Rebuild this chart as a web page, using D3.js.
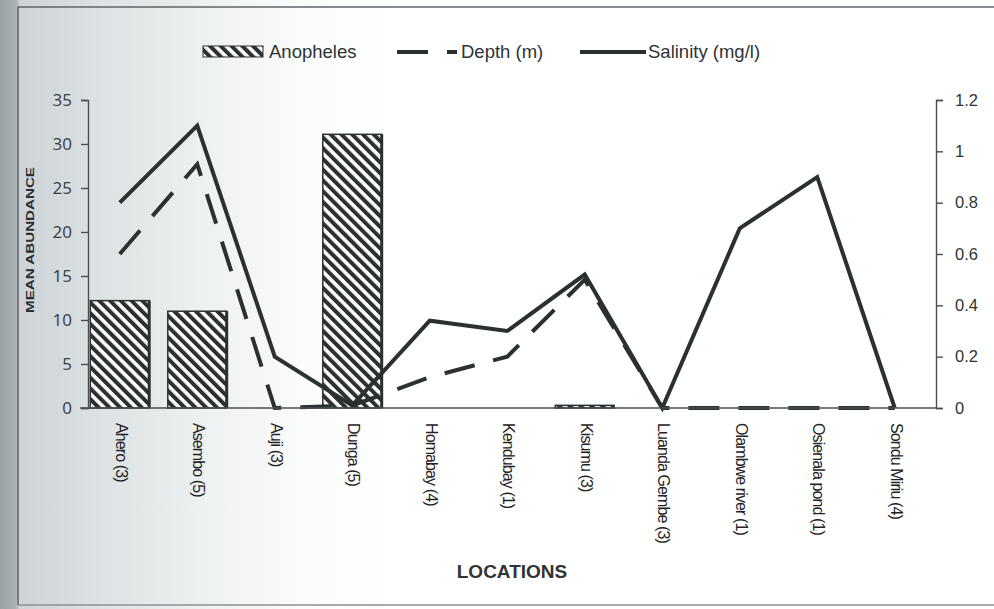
<!DOCTYPE html>
<html>
<head>
<meta charset="utf-8">
<script src="https://cdn.jsdelivr.net/npm/d3@7"></script>
<style>
  body { margin: 0; background: #fff; }
  svg { display: block; }
</style>
</head>
<body>
<script>
var width = 994, height = 609;

// data
var locations = ["Ahero (3)", "Asembo (5)", "Auji (3)", "Dunga (5)", "Homabay (4)", "Kendubay (1)",
                 "Kisumu (3)", "Luanda Gembe (3)", "Olambwe river (1)", "Osienala pond (1)", "Sondu Miriu (4)"];
var anopheles = [12.2, 11, 0, 31.1, 0, 0, 0.3, 0, 0, 0, 0];
var depth = [0.6, 0.95, 0, 0.01, 0.12, 0.2, 0.5, 0, 0, 0, 0];
var salinity = [0.8, 1.1, 0.2, 0.01, 0.34, 0.3, 0.52, 0, 0.7, 0.9, 0];
var leftTicks = [0, 5, 10, 15, 20, 25, 30, 35];
var rightTicks = [0, 0.2, 0.4, 0.6, 0.8, 1, 1.2];

var ink = "#2b3031";

var svg = d3.select("body").append("svg")
    .attr("width", width)
    .attr("height", height);

var defs = svg.append("defs");

// scanned page shading, darker at the left edge
var bg = defs.append("linearGradient").attr("id", "paper")
    .attr("gradientUnits", "userSpaceOnUse")
    .attr("x1", 0).attr("x2", width).attr("y1", 0).attr("y2", 0);
[[0, "#9aa2a7"], [0.016, "#a9b1b5"], [0.02, "#cdd3d6"], [0.1, "#dce1e3"], [0.2, "#edf0f1"], [0.3, "#fafbfb"], [0.4, "#ffffff"], [1, "#ffffff"]]
  .forEach(function(s){ bg.append("stop").attr("offset", s[0]).attr("stop-color", s[1]); });

// diagonal hatch for the bars
var hatch = defs.append("pattern").attr("id", "hatch")
    .attr("patternUnits", "userSpaceOnUse")
    .attr("width", 7.6).attr("height", 7.6)
    .attr("patternTransform", "rotate(-45)");
hatch.append("rect").attr("width", 7.6).attr("height", 7.6).attr("fill", "#fff");
hatch.append("rect").attr("width", 4).attr("height", 7.6).attr("fill", ink);

svg.append("rect").attr("width", width).attr("height", height).attr("fill", "url(#paper)");

// page frame
svg.append("path")
    .attr("d", "M18,605 L18,7 L994,7")
    .attr("fill", "none").attr("stroke", "#5f6568").attr("stroke-width", 1.5);
svg.append("line").attr("x1", 18).attr("x2", 994).attr("y1", 605).attr("y2", 605)
    .attr("stroke", "#8a9094").attr("stroke-width", 1.5);

// scales
var x = d3.scaleBand().domain(locations).range([81, 933.5]).paddingInner(0.24).paddingOuter(0.12);
var yLeft = d3.scaleLinear().domain([0, 35]).range([408, 100]);
var yRight = d3.scaleLinear().domain([0, 1.2]).range([408, 100]);
var cx = function(i){ return x(locations[i]) + x.bandwidth() / 2; };

// bars
var bars = svg.append("g").selectAll("g")
  .data(anopheles)
  .enter().append("g");
bars.append("rect")
    .attr("x", function(d, i){ return x(locations[i]); })
    .attr("width", x.bandwidth())
    .attr("y", function(d){ return yLeft(d); })
    .attr("height", function(d){ return yLeft(0) - yLeft(d); })
    .attr("fill", "url(#hatch)")
    .attr("stroke", function(d){ return d > 0 ? ink : "none"; })
    .attr("stroke-width", 1.5);
// heavier right edge, like the printed bars
bars.filter(function(d){ return d > 1; }).append("line")
    .attr("x1", function(d){ return x(locations[anopheles.indexOf(d)]) + x.bandwidth(); })
    .attr("x2", function(d){ return x(locations[anopheles.indexOf(d)]) + x.bandwidth(); })
    .attr("y1", function(d){ return yLeft(d); })
    .attr("y2", yLeft(0))
    .attr("stroke", ink).attr("stroke-width", 3);

// lines
var line = function(scale){
  return d3.line().x(function(d, i){ return cx(i); }).y(function(d){ return scale(d); });
};
svg.append("path").datum(depth)
    .attr("d", line(yRight))
    .attr("fill", "none").attr("stroke", ink).attr("stroke-width", 4)
    .attr("stroke-dasharray", "31,19");
svg.append("path").datum(salinity)
    .attr("d", line(yRight))
    .attr("fill", "none").attr("stroke", ink).attr("stroke-width", 4)
    .attr("stroke-linejoin", "miter");

// left axis
var left = svg.append("g").attr("transform", "translate(88,0)")
    .call(d3.axisLeft(yLeft).tickValues(leftTicks).tickSize(7).tickPadding(9));
left.select(".domain").attr("stroke", "#4a4f52").attr("stroke-width", 1.4);
left.selectAll(".tick line").attr("stroke", "#4a4f52").attr("stroke-width", 1.4);
left.selectAll("text").attr("font-family", "'Open Sans', sans-serif").attr("font-size", 17).attr("fill", "#363b3e");

// right axis
var right = svg.append("g").attr("transform", "translate(936,0)")
    .call(d3.axisRight(yRight).tickValues(rightTicks).tickSize(7).tickPadding(12).tickFormat(d3.format("~g")));
right.select(".domain").attr("stroke", "#4a4f52").attr("stroke-width", 1.4);
right.selectAll(".tick line").attr("stroke", "#4a4f52").attr("stroke-width", 1.4);
right.selectAll("text").attr("font-family", "'Liberation Sans', Arial, sans-serif").attr("font-size", 16.5).attr("fill", "#2f3436");

// baseline
svg.append("line").attr("x1", 80).attr("x2", 936).attr("y1", yLeft(0)).attr("y2", yLeft(0))
    .attr("stroke", "#4a4f52").attr("stroke-width", 1.4);

// category labels, rotated to read downward
svg.append("g").selectAll("text")
  .data(locations)
  .enter().append("text")
    .attr("transform", function(d, i){ return "translate(" + cx(i) + ",423) rotate(90)"; })
    .attr("dominant-baseline", "middle")
    .attr("font-family", "'Liberation Sans', Arial, sans-serif")
    .attr("font-size", 16)
    .attr("letter-spacing", "-0.9px")
    .attr("fill", "#1f2324")
    .text(function(d){ return d; });

// axis titles
svg.append("text")
    .attr("transform", "translate(34,240) rotate(-90)")
    .attr("text-anchor", "middle")
    .attr("font-family", "'Liberation Sans', Arial, sans-serif")
    .attr("font-size", 11.5).attr("font-weight", "bold")
    .attr("textLength", 146).attr("lengthAdjust", "spacingAndGlyphs")
    .attr("fill", "#2a2f31")
    .text("MEAN ABUNDANCE");

svg.append("text")
    .attr("x", 512).attr("y", 578)
    .attr("text-anchor", "middle")
    .attr("font-family", "'Liberation Sans', Arial, sans-serif")
    .attr("font-size", 19).attr("font-weight", "bold")
    .attr("fill", "#333")
    .text("LOCATIONS");

// legend
var legend = svg.append("g").attr("font-family", "'Liberation Sans', Arial, sans-serif")
    .attr("font-size", 18.5).attr("fill", "#2e3335");
legend.append("rect").attr("x", 203).attr("y", 46).attr("width", 60).attr("height", 11)
    .attr("fill", "url(#hatch)").attr("stroke", ink).attr("stroke-width", 1);
legend.append("text").attr("x", 269).attr("y", 58).text("Anopheles");
legend.append("line").attr("x1", 397).attr("x2", 457).attr("y1", 52).attr("y2", 52)
    .attr("stroke", ink).attr("stroke-width", 4).attr("stroke-dasharray", "31,19");
legend.append("text").attr("x", 461).attr("y", 58).text("Depth (m)");
legend.append("line").attr("x1", 580).attr("x2", 646).attr("y1", 52).attr("y2", 52)
    .attr("stroke", ink).attr("stroke-width", 4);
legend.append("text").attr("x", 648).attr("y", 58).text("Salinity (mg/l)");
</script>
</body>
</html>
